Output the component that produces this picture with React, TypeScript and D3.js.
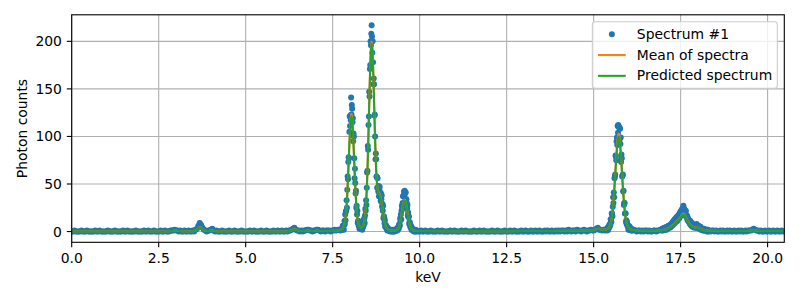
import React from "react";
import * as d3 from "d3";

// ---------- axis settings ----------
const X_DOMAIN: [number, number] = [0, 20.48];
const Y_DOMAIN: [number, number] = [-11.3, 227.9];
const xTicks = [0, 2.5, 5, 7.5, 10, 12.5, 15, 17.5, 20];
const yTicks = [0, 50, 100, 150, 200];
const xTickLabels = ["0.0", "2.5", "5.0", "7.5", "10.0", "12.5", "15.0", "17.5", "20.0"];
const yTickLabels = ["0", "50", "100", "150", "200"];
const seriesNames = ["Spectrum #1", "Mean of spectra", "Predicted spectrum"];

// ---------- Spectrum #1 (photon counts per channel) ----------
// 0.00 - 7.76 keV, channel width 0.04
const lowCounts = [
  0,0,1,0,0,0,0,1,0,0,0,1,0,0,0,0,0,1,0,0,1,0,0,0,0,
  0,1,0,0,0,0,1,0,0,0,0,0,1,0,0,1,0,0,0,0,0,1,0,0,0,
  0,0,1,0,0,1,0,0,0,1,0,0,0,0,1,0,0,1,0,0,0,1,1,1,2,
  1,1,0,1,0,0,1,0,0,1,0,0,1,0,2,3,6,9,7,4,2,1,0,1,1,
  2,3,1,0,1,0,0,0,1,0,0,0,0,1,0,0,0,1,0,0,0,0,1,0,0,
  0,0,0,1,0,0,1,0,0,0,0,1,0,0,0,1,0,0,0,0,1,0,0,1,0,
  0,1,0,0,1,0,1,1,2,3,4,2,1,1,0,1,0,1,1,2,2,1,1,0,1,
  1,2,2,1,0,1,1,0,1,1,1,0,1,1,2,1,2,2,1,3,
];
// 7.77 - 9.90 keV, channel width 0.01
const cuCounts = [
  3,2,6,4,6,2,7,11,8,18,
  12,21,22,33,25,44,58,55,73,78,
  77,105,121,111,122,117,141,123,133,129,
  115,119,95,103,100,77,56,66,51,40,
  43,25,27,18,22,9,11,11,6,8,
  3,8,5,5,3,7,4,5,2,7,
  7,5,12,8,14,9,17,24,22,33,
  28,46,62,64,90,86,112,121,147,142,
  171,175,200,196,208,217,205,188,200,178,
  155,161,155,122,123,100,76,82,76,58,
  57,46,56,46,42,48,37,45,47,38,
  41,32,40,34,38,26,29,22,27,14,
  16,15,9,12,5,7,5,6,3,4,
  1,4,2,3,1,2,1,2,0,1,
  2,1,0,1,1,0,2,1,0,1,
  1,0,2,1,1,2,1,3,2,1,
  4,3,5,3,7,8,6,14,12,18,
  13,22,27,24,30,37,29,38,42,37,
  43,40,34,41,28,34,30,24,28,17,
  20,15,16,8,10,9,5,5,6,3,
  2,4,2,1,2,1,2,0,1,1,
  0,2,1,0,
];
// 9.92 - 15.36 keV, channel width 0.04
const midCounts = [
  1,0,
  0,1,0,0,1,0,0,0,1,0,0,0,0,1,0,0,1,0,0,0,0,0,1,0,0,
  1,0,0,0,0,1,0,0,1,0,0,0,0,0,1,0,0,0,1,0,0,1,0,0,0,
  0,0,1,0,0,0,1,0,0,0,0,1,0,0,0,1,0,0,1,0,0,0,0,1,0,
  0,1,0,0,0,1,0,0,1,0,0,1,0,0,0,1,0,1,0,0,1,0,0,1,0,
  1,0,1,1,0,1,0,2,1,0,1,1,0,2,1,1,0,1,2,1,0,1,1,2,1,
  1,2,3,4,2,2,1,2,1,2,
];
// 15.37 - 16.10 keV, channel width 0.01
const srCounts = [
  2,3,1,4,3,2,5,4,7,5,
  8,7,13,11,10,19,19,16,26,36,
  30,41,36,56,58,60,80,79,75,95,
  99,91,111,104,112,110,110,96,109,108,
  92,99,73,81,77,58,59,60,42,43,
  28,30,30,19,19,19,10,12,8,10,
  6,7,5,2,6,4,2,5,2,3,
  2,1,3,1,
];
// 16.12 - 16.92 keV, channel width 0.04
const gapCounts = [1,2,1,0,1,1,0,1,0,1,1,0,1,0,0,1,1,0,1,1,2];
// 16.96 - 18.30 keV, even channels (0.02 apart)
const humpCountsEven = [
  1,3,2,2,4,2,3,5,4,5,
  4,6,7,5,8,9,7,11,12,9,
  12,15,11,16,17,14,19,21,18,23,
  20,27,24,19,21,16,17,12,13,10,
  9,11,7,8,5,7,6,4,7,6,
  8,4,5,6,3,4,3,2,3,1,
  2,3,1,2,1,0,2,1,
];
// 16.97 - 18.29 keV, odd channels (0.02 apart)
const humpCountsOdd = [
  3,1,2,4,2,4,2,5,3,6,
  6,4,5,8,6,10,8,9,13,10,
  14,11,16,13,18,15,20,17,23,20,
  25,21,23,18,22,15,16,14,11,12,
  8,10,6,9,7,5,7,5,6,4,
  6,5,4,5,3,5,2,3,2,3,
  1,2,2,1,1,2,0,
];
// 18.32 - 20.44 keV, channel width 0.04
const tailCounts = [
  1,0,1,1,0,1,0,0,1,0,1,0,0,1,0,1,0,
  0,1,0,0,1,0,1,0,0,1,0,1,1,1,2,3,2,1,1,0,1,0,0,1,0,
  0,1,0,0,1,0,0,1,0,0,1,0,
];

const spectrumSegments = [
  { start: 0, step: 0.04, counts: lowCounts },
  { start: 7.77, step: 0.01, counts: cuCounts },
  { start: 9.92, step: 0.04, counts: midCounts },
  { start: 15.37, step: 0.01, counts: srCounts },
  { start: 16.12, step: 0.04, counts: gapCounts },
  { start: 16.96, step: 0.02, counts: humpCountsEven },
  { start: 16.97, step: 0.02, counts: humpCountsOdd },
  { start: 18.32, step: 0.04, counts: tailCounts },
];

// ---------- Mean of spectra / Predicted spectrum ----------
const lineKeV = [
  0,1,2,2.8,2.92,2.98,3.04,3.16,3.5,3.56,3.6,3.64,3.68,3.72,3.76,3.8,3.86,3.94,3.99,4.03,4.08,4.16,5,
  6.2,6.3,6.36,6.4,6.44,6.5,6.58,6.7,6.78,6.84,6.92,7,7.05,7.1,7.2,7.4,7.5,7.6,7.64,7.68,7.72,7.76,
  7.8,7.82,7.84,7.86,7.88,7.9,7.92,7.94,7.96,7.98,
  8.0,8.02,8.04,8.06,8.08,8.1,8.12,8.14,8.16,8.18,
  8.2,8.22,8.24,8.26,8.28,8.3,8.32,8.34,8.36,8.38,
  8.4,8.42,8.44,8.46,8.48,8.5,8.52,8.54,8.56,8.58,
  8.6,8.62,8.64,8.66,8.68,8.7,8.72,8.74,8.76,8.78,
  8.8,8.82,8.84,8.86,8.88,8.9,8.92,8.94,8.96,8.98,
  9.0,9.02,9.04,9.06,9.08,9.1,
  9.14,9.2,9.26,9.3,9.34,
  9.38,9.4,9.42,9.44,9.46,9.48,9.5,9.52,9.54,9.56,
  9.58,9.6,9.62,9.64,9.66,9.68,9.7,9.72,9.74,9.76,
  9.8,9.84,9.9,10,11,12,13,13.8,14.2,14.6,15,15.06,15.12,15.18,15.24,15.3,15.36,
  15.4,15.44,15.48,
  15.5,15.52,15.54,15.56,15.58,15.6,15.62,15.64,15.66,15.68,15.7,15.72,
  15.74,15.76,15.78,15.8,15.82,15.84,15.86,15.88,15.9,15.92,15.94,15.96,
  16.0,16.04,16.1,16.2,16.3,16.5,16.8,
  17,17.1,17.2,17.3,17.36,17.4,17.44,17.48,17.52,17.56,17.58,17.6,17.62,17.66,17.7,17.74,17.78,
  17.82,17.88,17.94,17.98,18.04,18.1,18.2,18.3,18.5,19,19.4,19.52,19.6,19.68,19.8,20.48,
];
const meanCounts = [
  0.3,0.3,0.35,0.4,0.8,1.1,0.8,0.4,0.4,1.0,2.0,3.6,4.8,4.2,2.6,1.3,0.6,0.6,1.1,1.5,1.0,0.4,0.35,
  0.4,1.0,2.0,2.6,2.2,1.2,0.5,0.5,1.0,0.9,0.6,0.8,1.2,0.9,0.6,0.6,0.7,0.8,1.0,1.3,1.7,2.3,
  3.8,5.3,7.7,11.8,18.1,27.4,40.1,56.1,74.3,92.6,
  108.7,119.8,123.6,119.9,108.7,92.6,74.3,56.3,40.4,27.8,
  18.6,12.4,8.5,6.3,5.1,4.6,4.4,4.7,5.4,6.5,
  8.8,12.6,19.0,29.0,44.0,64.4,90.0,119.3,148.8,175.1,
  193.1,199.5,193.8,176.5,151.7,123.9,97.1,74.8,58.7,48.5,
  43.3,41.1,40.1,38.7,36.4,32.4,27.4,22.1,16.9,12.3,
  8.6,5.9,4.1,2.9,2.2,1.7,
  1.3,1.0,1.0,1.2,1.7,
  3.0,4.4,6.5,9.5,13.3,17.9,22.8,27.5,31.1,33.3,
  33.3,31.1,27.5,22.8,17.9,13.3,9.5,6.5,4.4,3.0,
  1.7,1.2,0.9,0.6,0.45,0.45,0.5,0.6,0.9,1.0,1.5,2.4,3.0,2.6,1.9,1.8,2.0,
  2.8,4.2,7.3,
  10.2,14.4,20.2,27.7,37.1,48.1,60.5,72.9,84.4,93.8,100.4,102.9,
  100.4,93.8,84.4,72.9,60.5,48.1,37.1,27.7,20.2,14.4,10.2,7.3,
  4.2,2.8,1.9,1.3,1.1,0.9,1.0,
  1.6,2.8,4.6,7.5,9.5,11.0,12.5,14.5,16.5,18.2,18.8,18.5,17.4,14.5,11.5,9.0,7.2,
  5.8,4.8,4.4,4.2,3.4,2.3,1.4,1.0,0.8,0.6,0.6,1.1,1.7,1.1,0.6,0.5,
];
const predictedCounts = [
  0.3,0.3,0.35,0.4,0.8,1.0,0.8,0.4,0.4,1.0,1.9,3.4,4.6,4.0,2.5,1.3,0.6,0.6,1.0,1.4,1.0,0.4,0.35,
  0.4,1.0,1.9,2.5,2.1,1.2,0.5,0.5,0.9,0.9,0.6,0.8,1.1,0.9,0.6,0.6,0.7,0.8,1.0,1.3,1.7,2.3,
  3.7,5.2,7.5,11.6,17.7,26.9,39.3,55.0,72.8,90.7,
  106.5,117.4,121.1,117.5,106.5,90.7,72.8,55.2,39.6,27.2,
  18.2,12.2,8.4,6.2,5.0,4.5,4.4,4.7,5.4,6.4,
  8.7,12.5,18.8,28.7,43.6,63.8,89.1,118.1,147.3,173.4,
  191.2,197.5,191.9,174.7,150.2,122.5,95.9,73.6,57.5,47.3,
  42.1,39.9,38.9,37.5,35.3,31.4,26.6,21.4,16.4,11.9,
  8.3,5.7,4.0,2.8,2.1,1.7,
  1.3,1.0,1.0,1.2,1.7,
  2.9,4.3,6.4,9.3,13.0,17.5,22.3,27.0,30.5,32.6,
  32.6,30.5,27.0,22.3,17.5,13.0,9.3,6.4,4.3,2.9,
  1.7,1.2,0.9,0.6,0.45,0.45,0.5,0.6,0.9,1.0,1.5,2.3,2.9,2.5,1.9,1.8,2.0,
  2.7,4.1,7.1,
  9.9,14.0,19.6,26.9,36.0,46.7,58.7,70.7,81.9,91.0,97.4,99.8,
  97.4,91.0,81.9,70.7,58.7,46.7,36.0,26.9,19.6,14.0,9.9,7.1,
  4.1,2.7,1.9,1.3,1.1,0.9,1.0,
  1.6,2.7,4.4,7.2,9.1,10.6,12.0,13.9,15.8,17.5,18.0,17.8,16.7,13.9,11.0,8.6,6.9,
  5.6,4.6,4.2,4.0,3.3,2.2,1.4,1.0,0.8,0.6,0.6,1.1,1.6,1.1,0.6,0.5,
];

const C_BLUE = "#1f77b4";
const C_ORANGE = "#ff7f0e";
const C_GREEN = "#2ca02c";
const FONT = "DejaVu Sans, sans-serif";
const FS = 13.9;
const DOT_R = 3;

export default function App() {
  const W = 800, H = 300;
  const left = 71.7, right = 784.3, top = 14.8, bottom = 242.3;
  const x = d3.scaleLinear().domain(X_DOMAIN).range([left, right]);
  const y = d3.scaleLinear().domain(Y_DOMAIN).range([bottom, top]);

  const points: [number, number][] = spectrumSegments.flatMap((s) =>
    s.counts.map((c, i) => [s.start + i * s.step, c] as [number, number])
  );

  const n = Math.min(lineKeV.length, meanCounts.length, predictedCounts.length);
  const meanPts: [number, number][] = [];
  const predPts: [number, number][] = [];
  for (let i = 0; i < n; i++) {
    meanPts.push([lineKeV[i], meanCounts[i]]);
    predPts.push([lineKeV[i], predictedCounts[i]]);
  }
  const lineGen = d3
    .line<[number, number]>()
    .x((d) => x(d[0]))
    .y((d) => y(d[1]));

  const tickLen = 4.9;
  const pad = 4.9;
  const lw = 1.1;

  // legend geometry
  const lgRight = right - 6.95;
  const lgTop = top + 6.95;
  const lgW = 185;
  const lgH = 66.6;
  const lgLeft = lgRight - lgW;
  const rowY = [lgTop + 12.5, lgTop + 33.3, lgTop + 54.1];
  const hx0 = lgLeft + 5.6;
  const hx1 = hx0 + 27.8;
  const tx = hx1 + 11.1;

  return (
    <svg
      width={W}
      height={H}
      style={{ position: "absolute", left: 0, top: 0, display: "block", background: "#fff" }}
      fontFamily={FONT}
    >
      <rect x={0} y={0} width={W} height={H} fill="#fff" />
      <defs>
        <clipPath id="plotClip">
          <rect x={left} y={top} width={right - left} height={bottom - top} />
        </clipPath>
      </defs>

      {/* grid */}
      <g stroke="#b0b0b0" strokeWidth={lw}>
        {xTicks.map((t) => (
          <line key={"gx" + t} x1={x(t)} x2={x(t)} y1={top} y2={bottom} />
        ))}
        {yTicks.map((t) => (
          <line key={"gy" + t} x1={left} x2={right} y1={y(t)} y2={y(t)} />
        ))}
      </g>

      {/* data */}
      <g clipPath="url(#plotClip)">
        <g fill={C_BLUE}>
          {points.map((p, i) => (
            <circle key={i} cx={x(p[0])} cy={y(p[1])} r={DOT_R} />
          ))}
        </g>
        <path d={lineGen(meanPts) || ""} fill="none" stroke={C_ORANGE} strokeWidth={2.08} strokeLinejoin="round" />
        <path d={lineGen(predPts) || ""} fill="none" stroke={C_GREEN} strokeWidth={2.08} strokeLinejoin="round" />
      </g>

      {/* spines */}
      <rect x={left} y={top} width={right - left} height={bottom - top} fill="none" stroke="#000" strokeWidth={lw} />

      {/* ticks and labels */}
      <g fontSize={FS} fill="#000">
        {xTicks.map((t, i) => (
          <g key={"xt" + t}>
            <line x1={x(t)} x2={x(t)} y1={bottom} y2={bottom + tickLen} stroke="#000" strokeWidth={lw} />
            <text x={x(t)} y={bottom + tickLen + pad + 10.6} textAnchor="middle">
              {xTickLabels[i]}
            </text>
          </g>
        ))}
        {yTicks.map((t, i) => (
          <g key={"yt" + t}>
            <line x1={left - tickLen} x2={left} y1={y(t)} y2={y(t)} stroke="#000" strokeWidth={lw} />
            <text x={left - tickLen - pad} y={y(t) + 5} textAnchor="end">
              {yTickLabels[i]}
            </text>
          </g>
        ))}
        <text x={(left + right) / 2} y={281.8} textAnchor="middle">
          keV
        </text>
        <text transform={`translate(26.5, ${(top + bottom) / 2}) rotate(-90)`} textAnchor="middle">
          Photon counts
        </text>
      </g>

      {/* legend */}
      <g>
        <rect
          x={lgLeft}
          y={lgTop}
          width={lgW}
          height={lgH}
          rx={2.8}
          ry={2.8}
          fill="#fff"
          fillOpacity={0.8}
          stroke="#cccccc"
          strokeWidth={1.1}
        />
        <circle cx={(hx0 + hx1) / 2} cy={rowY[0]} r={DOT_R} fill={C_BLUE} />
        <line x1={hx0} x2={hx1} y1={rowY[1]} y2={rowY[1]} stroke={C_ORANGE} strokeWidth={2.08} />
        <line x1={hx0} x2={hx1} y1={rowY[2]} y2={rowY[2]} stroke={C_GREEN} strokeWidth={2.08} />
        {seriesNames.map((name, i) => (
          <text key={name} x={tx} y={rowY[i] + 4.6} fontSize={FS} fill="#000">
            {name}
          </text>
        ))}
      </g>
    </svg>
  );
}
